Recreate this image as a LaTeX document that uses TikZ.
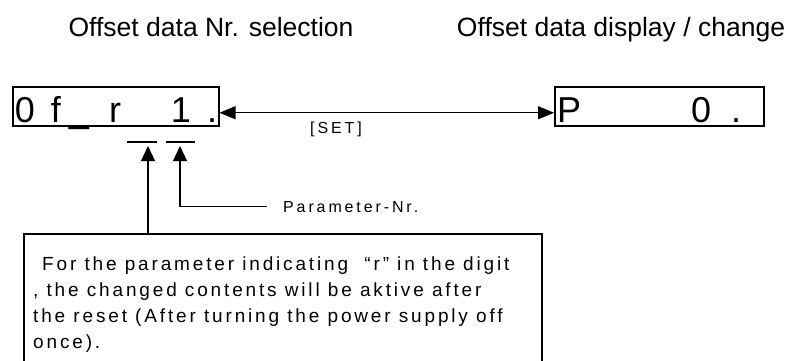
\documentclass[tikz,border=0pt]{standalone}
\usepackage{fontspec}
\setmainfont{Liberation Sans}
\newfontfamily\spaced[LetterSpace=15]{Liberation Sans}
\newfontfamily\spacedsmall[LetterSpace=18]{Liberation Sans}
\usetikzlibrary{arrows.meta}
\begin{document}
\begin{tikzpicture}[x=1pt,y=-1pt,
  ln/.style={line width=1.3pt},
  frame/.style={draw, line width=1.5pt, inner sep=0, anchor=north west},
  tipend/.style={-{Triangle[length=15pt,width=14pt]}},
  title/.style={font=\fontsize{26.5}{30}\selectfont, anchor=base, inner sep=0},
  digit/.style={font=\fontsize{36}{40}\selectfont, anchor=base, inner sep=0},
  lbl/.style={font=\spacedsmall\fontsize{16}{19}\selectfont, anchor=base west, inner sep=0},
  notetext/.style={font=\spaced\fontsize{19}{23}\selectfont, anchor=base west, inner sep=0}
]
\useasboundingbox (0,0) rectangle (789,360);
% titles
\node[title] (ttl1) at (211,36) {Offset data Nr. selection};
\node[title] (ttl2) at (621,36) {Offset data display / change};
% display boxes
\node[frame, minimum width=206pt, minimum height=39pt] (lbox) at (12,86) {};
\node[frame, minimum width=209pt, minimum height=39pt] (rbox) at (554,86) {};
\node[digit] (l1) at (25,122) {0};
\node[digit] (l2) at (56,122) {f};
\node[digit] (l3) at (79,122) {\_};
\node[digit] (l4) at (115,122) {r};
\node[digit] (l5) at (181,122) {1};
\node[digit] (l6) at (212,122) {.};
\node[digit] (r1) at (569,122) {P};
\node[digit] (r2) at (701,122) {0};
\node[digit] (r3) at (736,122) {.};
% SET arrow
\draw[ln, {Triangle[length=16pt,width=13pt]}-{Triangle[length=16pt,width=13pt]}]
  ([yshift=-6.5pt]lbox.east) -- ([yshift=-6.5pt]rbox.west);
\node[lbl] (set) at (310,133) {[SET]};
% overlines
\draw[ln] (127,142) -- (157,142);
\draw[ln] (166,142) -- (195,142);
\coordinate (tip1) at (148,146);
\coordinate (tip2) at (180,146);
% parameter label
\node[lbl] (pn) at (283,212) {Parameter-Nr.};
\draw[ln, tipend] ([xshift=-16pt,yshift=5.5pt]pn.base west) -| (tip2);
% note box
\draw[line width=1.5pt] (24,362) |- (542,234) -- (542,362);
\coordinate (nb) at (148,234);
\draw[ln, tipend] (nb) -- (tip1);
\node[notetext] (n1) at (42,270) {For the parameter indicating \ “r” in the digit};
\node[notetext] (n2) at (33,296) {, the changed contents will be aktive after};
\node[notetext] (n3) at (33,322) {the reset (After turning the power supply off};
\node[notetext] (n4) at (33,348) {once).};
\end{tikzpicture}
\end{document}
